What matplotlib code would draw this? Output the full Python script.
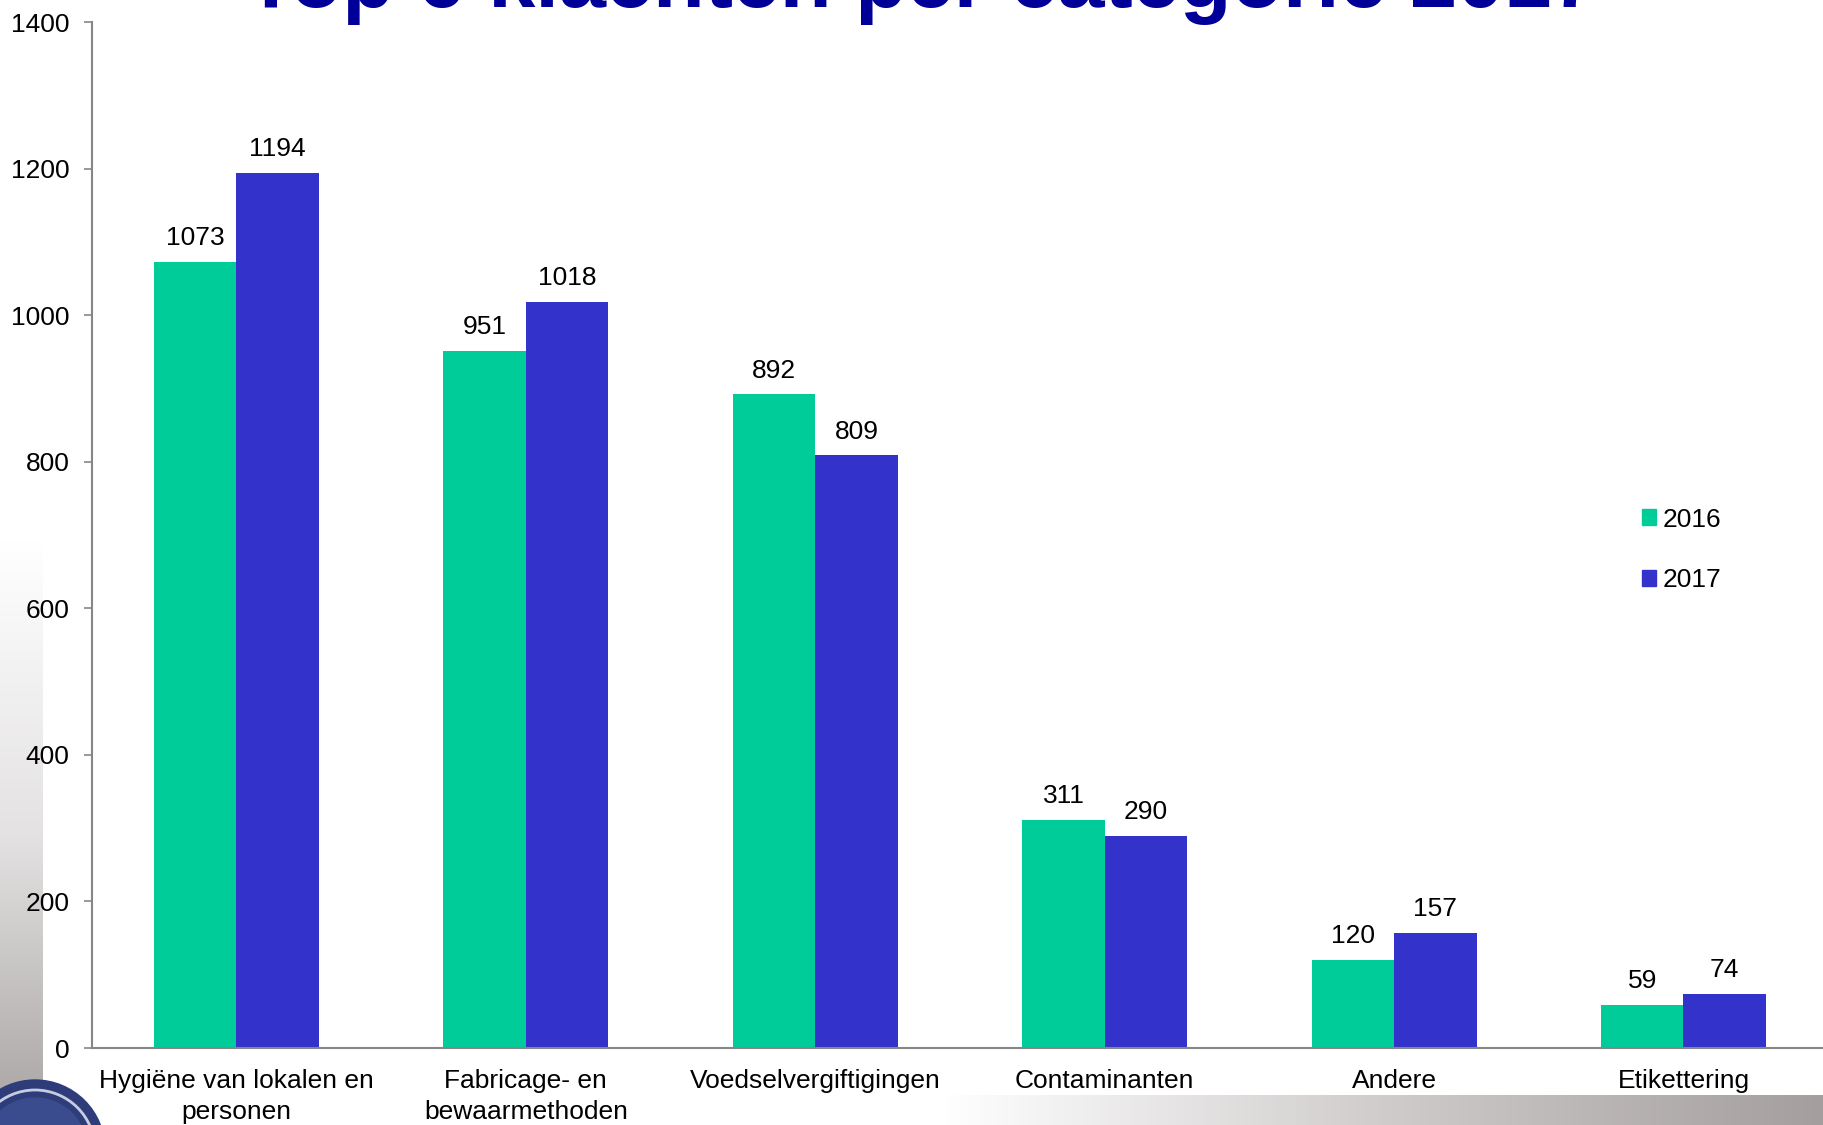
import numpy as np
import matplotlib
matplotlib.use("Agg")
import matplotlib.pyplot as plt
from matplotlib.patches import Circle, Patch

plt.rcParams["font.family"] = ["Liberation Sans", "DejaVu Sans"]

categories = [
    "Hygiëne van lokalen en\npersonen",
    "Fabricage- en\nbewaarmethoden",
    "Voedselvergiftigingen",
    "Contaminanten",
    "Andere",
    "Etikettering",
]
series_2016 = [1073, 951, 892, 311, 120, 59]
series_2017 = [1194, 1018, 809, 290, 157, 74]
series_labels = ["2016", "2017"]
y_ticks = [0, 200, 400, 600, 800, 1000, 1200, 1400]

color_2016 = "#00CC99"
color_2017 = "#3333CC"
axis_gray = "#868686"
text_size = 19

W, H = 1824, 1125
fig = plt.figure(figsize=(W / 100, H / 100), dpi=100)

# background decorations (slide template remnants)
bg = fig.add_axes([0, 0, 1, 1], zorder=0)
bg.set_xlim(0, W)
bg.set_ylim(H, 0)
bg.axis("off")

# left vertical gray strip, fading upward
left_grad = np.linspace(0, 1, 256).reshape(-1, 1)
cmap_gray = matplotlib.colors.LinearSegmentedColormap.from_list("g", ["#FFFFFF", "#E4E2E2", "#A8A3A3"])
bg.imshow(left_grad, extent=(0, 43, H, 540), cmap=cmap_gray, aspect="auto", zorder=0)

# bottom horizontal strip, fading to the left
bottom_grad = np.linspace(0, 1, 256).reshape(1, -1)
cmap_gray2 = matplotlib.colors.LinearSegmentedColormap.from_list("g2", ["#FFFFFF", "#D0CCCC", "#A49E9E"])
bg.imshow(bottom_grad, extent=(940, W, H, 1095), cmap=cmap_gray2, aspect="auto", zorder=0)

# logo circle bottom-left
bg.add_patch(Circle((35, 1150), 70, color="#2E3D7A", zorder=2))
bg.add_patch(Circle((35, 1150), 60, fill=False, edgecolor="#C8CCE0", linewidth=2, zorder=3))
bg.add_patch(Circle((35, 1150), 52, color="#3A4C8E", zorder=2))

ax = fig.add_axes([0.0503, 0.0684, 0.952, 0.912], zorder=1)
ax.set_facecolor("none")

x = np.arange(len(categories))
bar_w = 0.285
bars_2016 = ax.bar(x - bar_w / 2, series_2016, width=bar_w, color=color_2016, label=series_labels[0])
bars_2017 = ax.bar(x + bar_w / 2, series_2017, width=bar_w, color=color_2017, label=series_labels[1])

for bars, values in ((bars_2016, series_2016), (bars_2017, series_2017)):
    for bar, value in zip(bars, values):
        ax.annotate(
            str(value),
            (bar.get_x() + bar.get_width() / 2, value),
            xytext=(0, 12),
            textcoords="offset points",
            ha="center",
            va="baseline",
            fontsize=text_size,
            color="black",
        )

ax.set_xlim(-0.5, len(categories) - 0.5)
ax.set_ylim(0, 1400)
ax.set_yticks(y_ticks)
ax.set_xticks(x)
ax.set_xticklabels(categories, fontsize=text_size, linespacing=1.4)
ax.tick_params(axis="x", length=0, pad=15)
ax.tick_params(axis="y", length=6, width=1.2, color=axis_gray, pad=10, labelsize=text_size)

for side in ("top", "right"):
    ax.spines[side].set_visible(False)
for side in ("left", "bottom"):
    ax.spines[side].set_color(axis_gray)
    ax.spines[side].set_linewidth(1.5)

handles = [Patch(color=color_2016), Patch(color=color_2017)]
ax.legend(
    handles,
    series_labels,
    loc="upper left",
    bbox_to_anchor=(1618 / W, 1 - 484 / H),
    bbox_transform=fig.transFigure,
    frameon=False,
    fontsize=text_size,
    handlelength=0.55,
    handleheight=0.55,
    handletextpad=0.25,
    labelspacing=1.38,
)

fig.text(
    922 / W,
    1 - 7 / H,
    "Top 6 klachten per categorie 2017",
    ha="center",
    va="baseline",
    fontsize=61,
    fontweight="bold",
    color="#000099",
)

fig.savefig("out.png", dpi=100)
